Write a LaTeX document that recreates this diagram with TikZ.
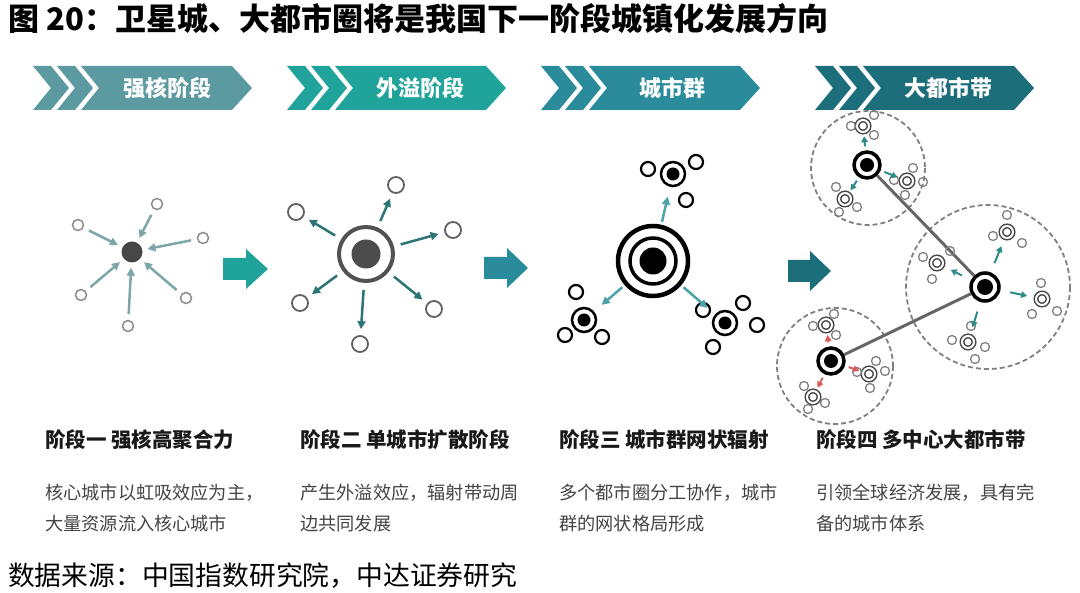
\documentclass[tikz,border=0pt]{standalone}
\usepackage{fontspec}
\newfontfamily\cjk{Noto Sans CJK SC}
\usepackage{tikz}
\usetikzlibrary{arrows.meta}
\definecolor{band1}{HTML}{5B9AA0}
\definecolor{band2}{HTML}{1FA39B}
\definecolor{band3}{HTML}{2A8C9B}
\definecolor{band4}{HTML}{1C6E7A}
\definecolor{flow1}{HTML}{7FA6A6}
\definecolor{flow2}{HTML}{2C7475}
\definecolor{flow3}{HTML}{4BA3A8}
\definecolor{flow4}{HTML}{2E8A87}
\definecolor{flowred}{HTML}{D85A55}
\definecolor{bodygray}{HTML}{444444}

\begin{document}
\begin{tikzpicture}[x=1pt,y=-1pt,
	town1/.style={circle,draw=black!45,line width=1.5pt,minimum size=11pt,inner sep=0pt},
	core1/.style={circle,fill=black!72,minimum size=21pt,inner sep=0pt},
	flowin/.style={draw=flow1,line width=2.5pt,-{Triangle[length=8pt,width=8pt]},shorten <=6pt,shorten >=5pt},
	town2/.style={circle,draw=black!62,line width=1.8pt,minimum size=16pt,inner sep=0pt},
	flowout/.style={draw=flow2,line width=2.5pt,-{Triangle[length=8pt,width=8pt]},shorten <=7pt,shorten >=6pt},
	town3/.style={circle,draw=black,line width=2.2pt,minimum size=14pt,inner sep=0pt},
	ring3/.style={circle,draw=black,line width=2.5pt,minimum size=24pt,inner sep=0pt},
	dot/.style={circle,fill=black,inner sep=0pt},
	flownet/.style={draw=flow3,line width=2.5pt,-{Triangle[length=8pt,width=8pt]},shorten <=3pt,shorten >=10pt},
	zone/.style={draw=black!50,line width=1.8pt,dash pattern=on 5pt off 3pt},
	hub4/.style={circle,draw=black,line width=3.5pt,minimum size=26pt,inner sep=0pt},
	sub4/.style={circle,draw=black!72,double=white,double distance=2pt,line width=1.5pt,minimum size=12pt,inner sep=0pt},
	town4/.style={circle,draw=black!50,line width=1.3pt,minimum size=9pt,inner sep=0pt},
	link/.style={draw=black!60,line width=3pt},
	flowbelt/.style={draw=flow4,line width=2pt,-{Triangle[length=6pt,width=6.5pt]},shorten <=4pt,shorten >=3.5pt},
	bandtext/.style={text=white,font=\cjk\bfseries\fontsize{22}{22}\selectfont},
	headtext/.style={anchor=base west,text=black!90,font=\cjk\bfseries\fontsize{20.5}{20.5}\selectfont,inner sep=0pt},
	bodytext/.style={anchor=base west,text=bodygray,align=left,font=\cjk\fontsize{18.2}{31}\selectfont,inner sep=0pt}]
	\useasboundingbox (0,0) rectangle (1080,593);

	% title and source
	\node[anchor=base west,inner sep=0pt,font=\cjk\bfseries\fontsize{31}{31}\selectfont] (title) at (8,31)
		{图 20：卫星城、大都市圈将是我国下一阶段城镇化发展方向};
	\node[anchor=base west,inner sep=0pt,font=\cjk\fontsize{26.8}{26.8}\selectfont] (source) at (8,586)
		{数据来源：中国指数研究院，中达证券研究};

	% stage bands
	\fill[band1] (33,66) -- (51,66) -- (69,88) -- (51,110) -- (33,110) -- (51,88) -- cycle
		(57,66) -- (75,66) -- (93,88) -- (75,110) -- (57,110) -- (75,88) -- cycle
		(81,66) -- (232,66) -- (252,88) -- (232,110) -- (81,110) -- (99,88) -- cycle;
	\node[bandtext] (band1) at (167,88) {强核阶段};
	\fill[band2] (287,66) -- (305,66) -- (323,88) -- (305,110) -- (287,110) -- (305,88) -- cycle
		(311,66) -- (329,66) -- (347,88) -- (329,110) -- (311,110) -- (329,88) -- cycle
		(335,66) -- (486,66) -- (506,88) -- (486,110) -- (335,110) -- (353,88) -- cycle;
	\node[bandtext] (band2) at (420,88) {外溢阶段};
	\fill[band3] (541,66) -- (559,66) -- (577,88) -- (559,110) -- (541,110) -- (559,88) -- cycle
		(565,66) -- (583,66) -- (601,88) -- (583,110) -- (565,110) -- (583,88) -- cycle
		(589,66) -- (740,66) -- (760,88) -- (740,110) -- (589,110) -- (607,88) -- cycle;
	\node[bandtext] (band3) at (672,88) {城市群};
	\fill[band4] (815,66) -- (833,66) -- (851,88) -- (833,110) -- (815,110) -- (833,88) -- cycle
		(839,66) -- (857,66) -- (875,88) -- (857,110) -- (839,110) -- (857,88) -- cycle
		(863,66) -- (1014,66) -- (1034,88) -- (1014,110) -- (863,110) -- (881,88) -- cycle;
	\node[bandtext] (band4) at (948,88) {大都市带};

	% big arrows between stages
	\fill[band2] (223,258) -- (246,258) -- (246,249) -- (268,269) -- (246,289) -- (246,280) -- (223,280) -- cycle;
	\fill[band3] (484,257) -- (507,257) -- (507,248) -- (528,268) -- (507,288) -- (507,279) -- (484,279) -- cycle;
	\fill[band4] (788,260) -- (810,260) -- (810,251) -- (831,271) -- (810,291) -- (810,282) -- (788,282) -- cycle;

	% stage one
	\node[core1] (core1) at (132,252) {};
	\node[town1] (t1a) at (157,204) {};
	\node[town1] (t1b) at (78,225) {};
	\node[town1] (t1c) at (203,238) {};
	\node[town1] (t1d) at (81,295) {};
	\node[town1] (t1e) at (186,298) {};
	\node[town1] (t1f) at (128,326) {};
	\foreach \t in {t1a,t1b,t1c,t1d,t1e,t1f}
		\draw[flowin] (\t) -- (core1);

	% stage two
	\node[circle,draw=black!68,line width=4pt,minimum size=54pt,inner sep=0pt] (core2) at (366,254) {};
	\node[circle,fill=black!70,minimum size=29pt,inner sep=0pt] at (core2) {};
	\node[town2] (t2a) at (296,212) {};
	\node[town2] (t2b) at (396,185) {};
	\node[town2] (t2c) at (453,230) {};
	\node[town2] (t2d) at (300,303) {};
	\node[town2] (t2e) at (434,309) {};
	\node[town2] (t2f) at (360,344) {};
	\foreach \t in {t2a,t2b,t2c,t2d,t2e,t2f}
		\draw[flowout] (core2) -- (\t);

	% stage three
	\node[circle,draw=black,line width=4.5pt,minimum size=70pt,inner sep=0pt] (core3) at (653,261) {};
	\node[circle,draw=black,line width=3.5pt,minimum size=46pt,inner sep=0pt] at (core3) {};
	\node[dot,minimum size=27pt] at (core3) {};
	\node[ring3] (sat3a) at (673,174) {};
	\node[dot,minimum size=13pt] at (sat3a) {};
	\node[town3] at (648,169) {};
	\node[town3] at (696,162) {};
	\node[town3] at (686,200) {};
	\node[ring3] (sat3b) at (584,320) {};
	\node[dot,minimum size=13pt] at (sat3b) {};
	\node[town3] at (576,292) {};
	\node[town3] at (565,335) {};
	\node[town3] at (602,337) {};
	\node[ring3] (sat3c) at (725,323) {};
	\node[dot,minimum size=13pt] at (sat3c) {};
	\node[town3] at (703,310) {};
	\node[town3] at (743,303) {};
	\node[town3] at (757,325) {};
	\node[town3] at (713,347) {};
	\foreach \s in {sat3a,sat3b,sat3c}
		\draw[flownet] (core3) -- (\s);

	% stage four
	\draw[zone] (868,168) circle[radius=57];
	\draw[zone] (988,287) circle[radius=82];
	\draw[zone] (835,366) circle[radius=58];
	\node[hub4] (hubT) at (867,165) {};
	\node[hub4,minimum size=28pt] (hubR) at (985,287) {};
	\node[hub4] (hubB) at (831,361) {};
	\draw[link] (hubT) -- (hubR);
	\draw[link] (hubB) -- (hubR);
	\node[dot,minimum size=14pt] at (hubT) {};
	\node[dot,minimum size=16pt] at (hubR) {};
	\node[dot,minimum size=14pt] at (hubB) {};

	\node[sub4] (subT1) at (863,126) {};
	\node[town4] at (851,126) {};
	\node[town4] at (874,115) {};
	\node[town4] at (874,135) {};
	\node[sub4] (subT2) at (907,181) {};
	\node[town4] at (894,180) {};
	\node[town4] at (913,168) {};
	\node[town4] at (923,182) {};
	\node[town4] at (905,195) {};
	\node[sub4] (subT3) at (845,199) {};
	\node[town4] at (836,187) {};
	\node[town4] at (839,212) {};
	\node[town4] at (857,207) {};

	\node[sub4] (subR1) at (1007,232) {};
	\node[town4] at (1007,215) {};
	\node[town4] at (993,236) {};
	\node[town4] at (1022,243) {};
	\node[sub4] (subR2) at (937,263) {};
	\node[town4] at (923,257) {};
	\node[town4] at (932,279) {};
	\node[town4] at (950,251) {};
	\node[sub4] (subR3) at (1042,299) {};
	\node[town4] at (1041,283) {};
	\node[town4] at (1032,314) {};
	\node[town4] at (1057,311) {};
	\node[sub4] (subR4) at (968,342) {};
	\node[town4] at (971,326) {};
	\node[town4] at (952,340) {};
	\node[town4] at (985,347) {};
	\node[town4] at (975,359) {};

	\node[sub4] (subB1) at (826,325) {};
	\node[town4] at (813,326) {};
	\node[town4] at (834,314) {};
	\node[town4] at (836,335) {};
	\node[sub4] (subB2) at (869,374) {};
	\node[town4] at (857,372) {};
	\node[town4] at (876,361) {};
	\node[town4] at (885,371) {};
	\node[town4] at (870,388) {};
	\node[sub4] (subB3) at (813,397) {};
	\node[town4] at (804,386) {};
	\node[town4] at (808,409) {};
	\node[town4] at (825,403) {};

	\foreach \s in {subT1,subT2,subT3}
		\draw[flowbelt] (hubT) -- (\s);
	\foreach \s in {subR1,subR2,subR3,subR4}
		\draw[flowbelt,shorten <=10pt,shorten >=8.5pt] (hubR) -- (\s);
	\foreach \s in {subB1,subB2,subB3}
		\draw[flowbelt,draw=flowred] (hubB) -- (\s);

	% captions
	\node[headtext] (head1) at (45,448) {阶段一 强核高聚合力};
	\node[headtext] (head2) at (300,448) {阶段二 单城市扩散阶段};
	\node[headtext] (head3) at (559,448) {阶段三 城市群网状辐射};
	\node[headtext] (head4) at (816,448) {阶段四 多中心大都市带};
	\node[bodytext] (body1) at (45,531) {核心城市以虹吸效应为主，\\大量资源流入核心城市};
	\node[bodytext] (body2) at (300,531) {产生外溢效应，辐射带动周\\边共同发展};
	\node[bodytext] (body3) at (559,531) {多个都市圈分工协作，城市\\群的网状格局形成};
	\node[bodytext] (body4) at (816,531) {引领全球经济发展，具有完\\备的城市体系};
\end{tikzpicture}
\end{document}
